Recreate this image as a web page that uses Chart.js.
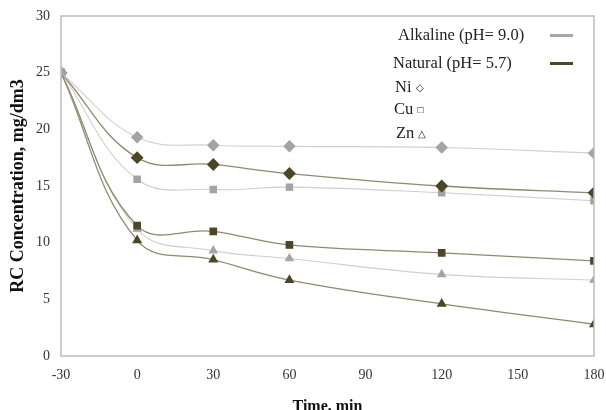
<!DOCTYPE html>
<html>
<head>
<meta charset="utf-8">
<script src="https://cdn.jsdelivr.net/npm/chart.js@4.4.1/dist/chart.umd.min.js"></script>
<style>
html,body{margin:0;padding:0;background:#fff;overflow:hidden;}
#wrap{position:relative;width:606px;height:410px;overflow:hidden;}
.lg{position:absolute;font-family:'Liberation Serif',serif;font-size:16.5px;line-height:20px;color:#222;white-space:nowrap;}
.lg span{font-size:10px;vertical-align:1px;}
.sw{position:absolute;height:3px;}
</style>
</head>
<body>
<div id="wrap">
<canvas id="c" width="606" height="416"></canvas>
<div class="lg" style="left:398px;top:25px;">Alkaline (pH= 9.0)</div>
<div class="sw" style="left:550px;top:34px;width:23px;background:#a6a6a6;"></div>
<div class="lg" style="left:393px;top:53px;">Natural (pH= 5.7)</div>
<div class="sw" style="left:550px;top:62px;width:23px;background:#4b4628;"></div>
<div class="lg" style="left:395px;top:77px;">Ni <span>◇</span></div>
<div class="lg" style="left:394px;top:99px;">Cu <span>□</span></div>
<div class="lg" style="left:396px;top:123px;">Zn <span>△</span></div>
</div>
<script>
const times=[-30,0,30,60,120,180];
const alkNi=[25,19.3,18.6,18.5,18.4,17.9];
const natNi=[25,17.5,16.9,16.1,15.0,14.4];
const alkCu=[25,15.6,14.7,14.9,14.4,13.7];
const natCu=[25,11.5,11.0,9.8,9.1,8.4];
const alkZn=[25,11.2,9.3,8.6,7.2,6.7];
const natZn=[25,10.2,8.5,6.7,4.6,2.8];
const xTicks=[-30,0,30,60,90,120,150,180];

const greyPt='#a3a3a3', darkPt='#4b4628';
const greyLn='#d0d0d0', darkLn='#8e8a72';

function pts(vals){return vals.map((v,i)=>({x:times[i],y:v}));}
function ds(label,vals,style,dark){
  return {label:label,data:pts(vals),pointStyle:style,
    pointRadius:style==='rectRot'?5.5:4.5,pointHoverRadius:5,
    backgroundColor:dark?darkPt:greyPt,pointBorderColor:dark?darkPt:greyPt,
    borderColor:dark?darkLn:greyLn,borderWidth:dark?1.3:1.1,tension:0.4,fill:false};
}

const boxPlugin={id:'box',afterDraw(chart){
  const a=chart.chartArea,ctx=chart.ctx;
  ctx.save();ctx.strokeStyle='#bdbdbd';ctx.lineWidth=1.5;
  ctx.strokeRect(a.left,a.top,a.right-a.left,a.bottom-a.top);ctx.restore();
}};

new Chart(document.getElementById('c'),{
  type:'line',
  data:{datasets:[
    ds('Alkaline Ni',alkNi,'rectRot',false),
    ds('Natural Ni',natNi,'rectRot',true),
    ds('Alkaline Cu',alkCu,'rect',false),
    ds('Natural Cu',natCu,'rect',true),
    ds('Alkaline Zn',alkZn,'triangle',false),
    ds('Natural Zn',natZn,'triangle',true)
  ]},
  options:{
    responsive:false,animation:false,
    layout:{padding:{left:8,right:12,top:16,bottom:0}},
    plugins:{legend:{display:false},tooltip:{enabled:false}},
    scales:{
      x:{type:'linear',min:-30,max:180,
        afterBuildTicks(ax){ax.ticks=xTicks.map(v=>({value:v}));},
        afterFit(s){s.height=60;s.paddingLeft=0;s.paddingRight=0;},
        grid:{display:false,drawTicks:false},border:{display:false},
        ticks:{color:'#333',padding:11,font:{family:'Liberation Serif',size:14}},
        title:{display:true,text:'Time, min',color:'#111',padding:{top:12,bottom:0},font:{family:'Liberation Serif',size:16,weight:'bold'}}},
      y:{min:0,max:30,
        afterFit(s){s.width=53;s.paddingTop=0;s.paddingBottom=0;},
        ticks:{stepSize:5,color:'#333',padding:11,font:{family:'Liberation Serif',size:14}},
        grid:{display:false,drawTicks:false},border:{display:false},
        title:{display:true,text:'RC Concentration, mg/dm3',color:'#111',padding:{top:0,bottom:0},font:{family:'Liberation Serif',size:18,weight:'bold'}}}
    }
  },
  plugins:[boxPlugin]
});
</script>
</body>
</html>
